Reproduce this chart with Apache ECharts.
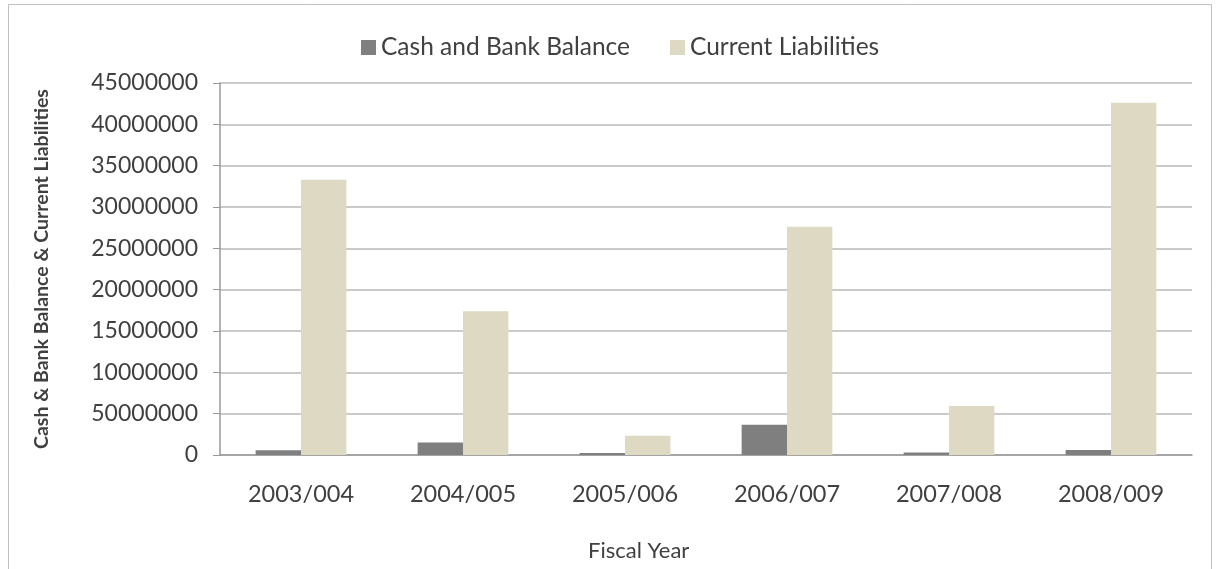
<!DOCTYPE html>
<html>
<head>
<meta charset="utf-8">
<script src="https://cdn.jsdelivr.net/npm/echarts@6/dist/echarts.min.js"></script>
<style>
  html, body { margin: 0; padding: 0; background: #fff; }
  #main { width: 1220px; height: 569px; }
</style>
</head>
<body>
<div id="main"></div>
<script>
// data
const years = ['2003/004', '2004/005', '2005/006', '2006/007', '2007/008', '2008/009'];
const cashBank = [570000, 1500000, 250000, 3650000, 300000, 600000];
const currentLiab = [33300000, 17400000, 2340000, 27600000, 5940000, 42600000];
// tick labels as printed in the original (note the 50000000 at the 5M line)
const yTickLabels = ['0', '50000000', '10000000', '15000000', '20000000', '25000000', '30000000', '35000000', '40000000', '45000000'];

const font = 'Lato, "Open Sans", sans-serif';
const textColor = '#404040';

const myChart = echarts.init(document.getElementById('main'));
myChart.setOption({
    animation: false,
    graphic: [{
        type: 'rect',
        shape: { x: 8.5, y: 4.5, width: 1203, height: 580 },
        style: { fill: 'none', stroke: '#bfbfbf', lineWidth: 1 }
    }, {
        // x axis title sits left of the plot centre in the original
        type: 'text',
        left: 588,
        top: 540,
        style: { text: 'Fiscal Year', font: '22px ' + font, fill: textColor }
    }],
    legend: {
        top: 30,
        left: 356,
        itemWidth: 15,
        itemHeight: 15,
        itemGap: 40,
        icon: 'rect',
        textStyle: { fontFamily: font, fontSize: 24.5, color: textColor }
    },
    grid: { left: 220, right: 28, top: 83, bottom: 114 },
    xAxis: {
        type: 'category',
        data: years,
        axisLine: { lineStyle: { color: '#999', width: 1.5 } },
        axisTick: { length: 6, lineStyle: { color: '#999' } },
        axisLabel: { fontFamily: font, fontSize: 23.5, color: textColor, margin: 27 }
    },
    yAxis: {
        type: 'value',
        min: 0,
        max: 45000000,
        interval: 5000000,
        name: 'Cash & Bank Balance & Current Liabilities',
        nameLocation: 'middle',
        nameGap: 168,
        nameTextStyle: { fontFamily: font, fontSize: 19.5, color: textColor, fontWeight: 'bold' },
        axisLine: { show: true, lineStyle: { color: '#999', width: 1.5 } },
        axisTick: { show: true, length: 7, lineStyle: { color: '#999' } },
        splitLine: { lineStyle: { color: '#b8b8b8', width: 1.5 } },
        axisLabel: {
            fontFamily: font, fontSize: 23, color: textColor, margin: 22,
            formatter: function (v) { return yTickLabels[Math.round(v / 5000000)]; }
        }
    },
    series: [
        {
            name: 'Cash and Bank Balance',
            type: 'bar',
            data: cashBank,
            barGap: '0%',
            barCategoryGap: '44%',
            itemStyle: { color: '#7f7f7f' }
        },
        {
            name: 'Current Liabilities',
            type: 'bar',
            data: currentLiab,
            itemStyle: { color: '#ddd9c3' }
        }
    ]
});
</script>
</body>
</html>
